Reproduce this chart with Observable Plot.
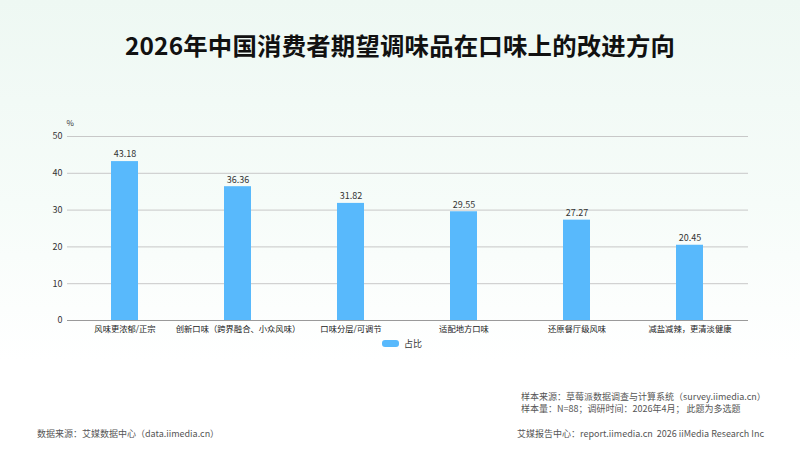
<!DOCTYPE html>
<html>
<head>
<meta charset="utf-8">
<script src="https://cdn.jsdelivr.net/npm/d3@7"></script>
<script src="https://cdn.jsdelivr.net/npm/@observablehq/plot@0.6"></script>
<style>
  html, body { margin: 0; padding: 0; }
  body {
    width: 800px; height: 451px; position: relative; overflow: hidden;
    font-family: "Noto Sans CJK SC", "Noto Sans", sans-serif;
    background: linear-gradient(180deg, #eef8f3 0%, #f6fcf9 45%, #ffffff 80%);
  }
  #title {
    position: absolute; top: 27px; left: 0; width: 800px; text-align: center;
    font-size: 24.4px; font-weight: 700; color: #111; letter-spacing: 0.2px;
  }
  #chart { position: absolute; top: 0; left: 0; }
  #legend {
    position: absolute; top: 337px; left: 382px; font-size: 9px; color: #333;
    display: flex; align-items: center;
  }
  #legend .sw { width: 17px; height: 7px; border-radius: 3px; background: #58b9fc; margin-right: 5px; }
  .foot { position: absolute; font-size: 9px; color: #555; white-space: nowrap; transform-origin: left top; }
</style>
</head>
<body>
<div id="title">2026年中国消费者期望调味品在口味上的改进方向</div>
<div id="chart"></div>
<div id="legend"><div class="sw"></div><span>占比</span></div>
<div class="foot" id="f1" style="left:521px; top:390px;">样本来源：草莓派数据调查与计算系统（survey.iimedia.cn）</div>
<div class="foot" id="f2" style="left:521px; top:402px;">样本量：N=88；调研时间：2026年4月； 此题为多选题</div>
<div class="foot" id="f3" style="left:37px; top:427px;">数据来源：艾媒数据中心（data.iimedia.cn）</div>
<div class="foot" id="f4" style="left:517px; top:427px;">艾媒报告中心：report.iimedia.cn &nbsp;2026 iiMedia Research Inc</div>
<script>
const categories = ["风味更浓郁/正宗", "创新口味（跨界融合、小众风味）", "口味分层/可调节", "适配地方口味", "还原餐厅级风味", "减盐减辣，更清淡健康"];
const values = [43.18, 36.36, 31.82, 29.55, 27.27, 20.45];
const yTicks = [0, 10, 20, 30, 40, 50];

const data = categories.map((c, i) => ({category: c, value: values[i]}));

const chart = Plot.plot({
  width: 800,
  height: 360,
  marginTop: 136,
  marginBottom: 40,
  marginLeft: 67,
  marginRight: 52,
  style: {background: "transparent", fontFamily: "'Noto Sans CJK SC', 'Noto Sans', sans-serif", fontSize: "9px", color: "#333"},
  x: {domain: categories, paddingInner: 0.76, paddingOuter: 0.38, label: null, tickSize: 0, tickPadding: 6},
  y: {domain: [0, 50], ticks: yTicks, label: null, tickSize: 0, tickPadding: 5},
  marks: [
    Plot.gridY(yTicks.filter(d => d > 0), {stroke: "#c8c8c8", strokeOpacity: 1, strokeWidth: 1}),
    Plot.barY(data, {x: "category", y: "value", fill: "#58b9fc"}),
    Plot.ruleY([0], {stroke: "#9a9a9a", strokeWidth: 1}),
    Plot.text(data, {x: "category", y: "value", text: d => d.value.toFixed(2), dy: -7, fontSize: 9, fill: "#333"}),
    Plot.text(["%"], {frameAnchor: "top-left", dx: -1, dy: -16, fontSize: 8, fill: "#333"}),
    Plot.axisX({tickSize: 0, tickPadding: 6, fontSize: 8.3, fill: "#222"}),
    Plot.axisY({ticks: yTicks, tickSize: 0, tickPadding: 5, fontSize: 9, fill: "#333"})
  ]
});
document.getElementById("chart").appendChild(chart);
</script>
</body>
</html>
